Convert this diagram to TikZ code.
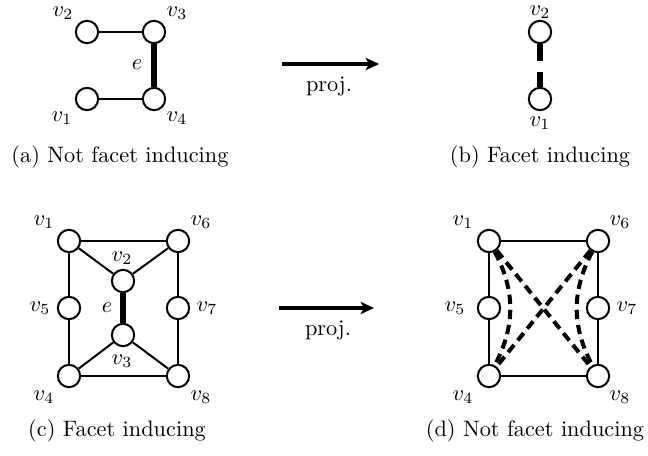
\documentclass[tikz,border=0pt]{standalone}
\usetikzlibrary{arrows.meta}
\begin{document}
\begin{tikzpicture}[x=0.448pt,y=-0.448pt,
  vtx/.style={circle,draw,line width=0.9pt,minimum size=10pt,inner sep=0pt,fill=white},
  lbl/.style={inner sep=0pt},
  edg/.style={line width=0.9pt},
  thickedg/.style={line width=2.3pt},
  dashedg/.style={line width=1.8pt,dash pattern=on 4.2pt off 2.6pt},
  projarrow/.style={line width=2.2pt,-{Stealth[length=6pt,width=5.5pt,inset=1.5pt]}},
  captext/.style={inner sep=0pt}]
\useasboundingbox (0,0) rectangle (648,455);

% ---------- (a)
\node[vtx] (a2) at (87,32) {};
\node[vtx] (a3) at (154,32) {};
\node[vtx] (a1) at (87,99) {};
\node[vtx] (a4) at (154,99) {};
\draw[edg] (a2) -- (a3);
\draw[edg] (a1) -- (a4);
\draw[thickedg] (a3) -- (a4);
\node[lbl] (la2) at (63,13) {$v_2$};
\node[lbl] (la3) at (177,13) {$v_3$};
\node[lbl] (la1) at (62,118) {$v_1$};
\node[lbl] (la4) at (177,118) {$v_4$};
\node[lbl] (lae) at (137,65) {$e$};
\node[captext] (capa) at (120,157) {(a) Not facet inducing};

% ---------- arrow top
\coordinate (t1) at (282,64);
\coordinate (t2) at (379,64);
\draw[projarrow] (t1) -- (t2);
\node[lbl] (ptop) at (329,86) {proj.};

% ---------- (b)
\node[vtx] (b2) at (540,32) {};
\node[vtx] (b1) at (540,99) {};
\draw[line width=2.3pt,dash pattern=on 7.6pt off 4.9pt] (b2) -- (b1);
\node[lbl] (lb2) at (540,12) {$v_2$};
\node[lbl] (lb1) at (540,123) {$v_1$};
\node[captext] (capb) at (540,157) {(b) Facet inducing};

% ---------- (c)
\node[vtx] (c1) at (69,241) {};
\node[vtx] (c6) at (178,241) {};
\node[vtx] (c2) at (123,281) {};
\node[vtx] (c5) at (69,308) {};
\node[vtx] (c7) at (178,308) {};
\node[vtx] (c3) at (123,335) {};
\node[vtx] (c4) at (69,376) {};
\node[vtx] (c8) at (178,376) {};
\draw[edg] (c1) -- (c6);
\draw[edg] (c1) -- (c5);
\draw[edg] (c5) -- (c4);
\draw[edg] (c4) -- (c8);
\draw[edg] (c8) -- (c7);
\draw[edg] (c7) -- (c6);
\draw[edg] (c1) -- (c2);
\draw[edg] (c6) -- (c2);
\draw[edg] (c3) -- (c4);
\draw[edg] (c3) -- (c8);
\draw[thickedg] (c2) -- (c3);
\node[lbl] (lc1) at (44,222) {$v_1$};
\node[lbl] (lc6) at (201,222) {$v_6$};
\node[lbl] (lc2) at (122,258) {$v_2$};
\node[lbl] (lc5) at (40,308) {$v_5$};
\node[lbl] (lc7) at (207,308) {$v_7$};
\node[lbl] (lce) at (107,308) {$e$};
\node[lbl] (lc3) at (122,361) {$v_3$};
\node[lbl] (lc4) at (44,397) {$v_4$};
\node[lbl] (lc8) at (201,397) {$v_8$};
\node[captext] (capc) at (117,431) {(c) Facet inducing};

% ---------- arrow bottom
\coordinate (u1) at (279,308);
\coordinate (u2) at (374,308);
\draw[projarrow] (u1) -- (u2);
\node[lbl] (pbot) at (328,330) {proj.};

% ---------- (d)
\node[vtx] (d1) at (489,241) {};
\node[vtx] (d6) at (598,241) {};
\node[vtx] (d5) at (489,308) {};
\node[vtx] (d7) at (598,308) {};
\node[vtx] (d4) at (489,376) {};
\node[vtx] (d8) at (598,376) {};
\draw[edg] (d1) -- (d6);
\draw[edg] (d1) -- (d5);
\draw[edg] (d5) -- (d4);
\draw[edg] (d4) -- (d8);
\draw[edg] (d8) -- (d7);
\draw[edg] (d7) -- (d6);
\draw[dashedg] (d1) -- (d8);
\draw[dashedg] (d6) -- (d4);
\draw[dashedg] (d1) to[bend left=28] (d4);
\draw[dashedg] (d6) to[bend right=28] (d8);
\node[lbl] (ld1) at (463,222) {$v_1$};
\node[lbl] (ld6) at (620,222) {$v_6$};
\node[lbl] (ld5) at (455,308) {$v_5$};
\node[lbl] (ld7) at (627,308) {$v_7$};
\node[lbl] (ld4) at (463,397) {$v_4$};
\node[lbl] (ld8) at (620,397) {$v_8$};
\node[captext] (capd) at (535,431) {(d) Not facet inducing};
\end{tikzpicture}
\end{document}
